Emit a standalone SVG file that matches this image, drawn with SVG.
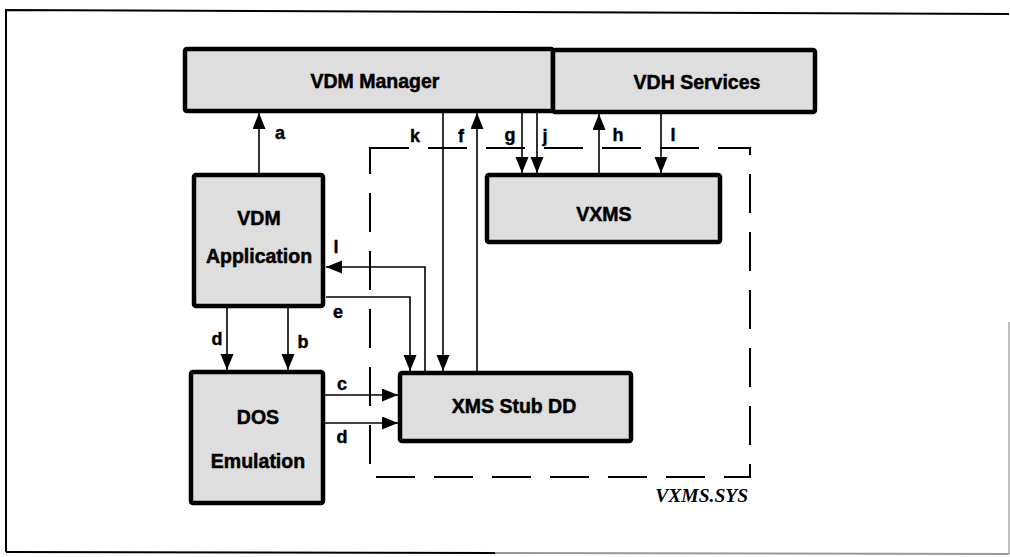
<svg xmlns="http://www.w3.org/2000/svg" width="1010" height="557" viewBox="0 0 1010 557">
<style>
.box{fill:#dedede;stroke:#000;stroke-width:4.5;stroke-linejoin:round}
.t{font-family:"Liberation Sans",Arial,sans-serif;font-weight:bold;font-size:19.5px;fill:#000;text-anchor:middle;stroke:#000;stroke-width:0.5}
.lbl{font-family:"Liberation Sans",Arial,sans-serif;font-weight:bold;font-size:18px;fill:#000;text-anchor:middle;stroke:#000;stroke-width:0.4}
.c{fill:none;stroke:#000;stroke-width:1.6}
.ar{marker-end:url(#ah)}
.dash{fill:none;stroke:#000;stroke-width:2;stroke-dasharray:39 19}
</style>
<defs>
<marker id="ah" markerUnits="userSpaceOnUse" markerWidth="17" markerHeight="14" refX="16" refY="6.5" orient="auto">
<path d="M0,0 L16,6.5 L0,13 Z" fill="#000"/>
</marker>
</defs>
<g id="frame">
<path d="M6,552 L6,10 L1009,14" fill="none" stroke="#000" stroke-width="2"/>
<line x1="6" y1="552" x2="495" y2="553" stroke="#000" stroke-width="2"/>
<line x1="495" y1="553" x2="1009" y2="554" stroke="#999" stroke-width="2"/>
<line x1="1009" y1="322" x2="1009" y2="554" stroke="#aaa" stroke-width="1.5"/>
</g>
<g id="vxms-sys">
<rect class="dash" x="370" y="148" width="380" height="329"/>
<text x="748" y="502" font-family="'Liberation Serif','Times New Roman',serif" font-style="italic" font-weight="bold" font-size="19.5" text-anchor="end" fill="#000">VXMS.SYS</text>
</g>
<g id="connectors">
<line class="c ar" x1="259" y1="173" x2="259" y2="113"/>
<line class="c ar" x1="227" y1="308" x2="227" y2="370"/>
<line class="c ar" x1="288" y1="308" x2="288" y2="370"/>
<line class="c ar" x1="325" y1="395" x2="398" y2="395"/>
<line class="c ar" x1="325" y1="423" x2="398" y2="423"/>
<polyline class="c ar" points="425,371 425,267 326,267"/>
<polyline class="c ar" points="326,297 410,297 410,371"/>
<line class="c ar" x1="443" y1="113" x2="443" y2="371"/>
<line class="c ar" x1="477" y1="371" x2="477" y2="113"/>
<line class="c ar" x1="522" y1="113" x2="522" y2="173"/>
<line class="c ar" x1="537" y1="113" x2="537" y2="173"/>
<line class="c ar" x1="599" y1="173" x2="599" y2="114"/>
<line class="c ar" x1="661" y1="114" x2="661" y2="173"/>
<text class="lbl" x="280" y="139">a</text>
<text class="lbl" x="415" y="142">k</text>
<text class="lbl" x="461" y="142">f</text>
<text class="lbl" x="510" y="141">g</text>
<text class="lbl" x="545" y="142">j</text>
<text class="lbl" x="618" y="141">h</text>
<text class="lbl" x="673" y="141">l</text>
<text class="lbl" x="336" y="253">l</text>
<text class="lbl" x="338" y="318">e</text>
<text class="lbl" x="217" y="345">d</text>
<text class="lbl" x="303" y="348">b</text>
<text class="lbl" x="342" y="390">c</text>
<text class="lbl" x="342" y="443">d</text>
</g>
<g id="vdm-manager">
<rect class="box" x="185" y="49" width="368" height="62" rx="2"/>
<text class="t" x="375" y="88">VDM Manager</text>
</g>
<g id="vdh-services">
<rect class="box" x="553" y="50" width="262" height="62" rx="2"/>
<text class="t" x="697" y="89">VDH Services</text>
</g>
<g id="vxms">
<rect class="box" x="487" y="175" width="233" height="67" rx="2"/>
<text class="t" x="604" y="221">VXMS</text>
</g>
<g id="vdm-application">
<rect class="box" x="194" y="175" width="129" height="131" rx="2"/>
<text class="t" x="259" y="225">VDM</text>
<text class="t" x="259" y="263">Application</text>
</g>
<g id="dos-emulation">
<rect class="box" x="191" y="372" width="132" height="131" rx="2"/>
<text class="t" x="258" y="424">DOS</text>
<text class="t" x="258" y="468">Emulation</text>
</g>
<g id="xms-stub">
<rect class="box" x="400" y="373" width="231" height="68" rx="2"/>
<text class="t" x="514" y="413">XMS Stub DD</text>
</g>
</svg>
